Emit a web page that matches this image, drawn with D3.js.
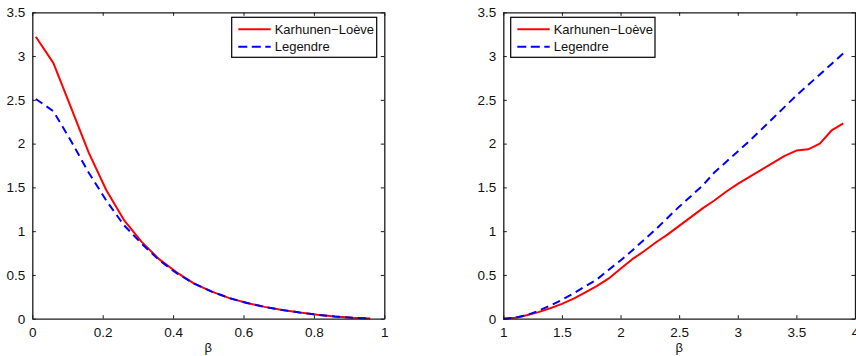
<!DOCTYPE html>
<html>
<head>
<meta charset="utf-8">
<script src="https://cdn.jsdelivr.net/npm/d3@7"></script>
<style>
  html, body { margin: 0; padding: 0; background: #fff; }
  svg { display: block; font-family: "Liberation Sans", Arial, Helvetica, sans-serif; }
</style>
</head>
<body>
<svg id="chart" width="856" height="356"></svg>
<script>
// ---------- data ----------
const betaLeft = [0.01, 0.06, 0.11, 0.16, 0.21, 0.26, 0.31, 0.36, 0.41, 0.46,
                  0.51, 0.56, 0.61, 0.66, 0.71, 0.76, 0.81, 0.86, 0.91, 0.96];
const klLeft = [3.22, 2.92, 2.41, 1.90, 1.47, 1.13, 0.88, 0.68, 0.53, 0.40,
                0.31, 0.235, 0.18, 0.135, 0.10, 0.07, 0.045, 0.025, 0.01, 0.002];
const legLeft = [2.51, 2.37, 2.03, 1.67, 1.35, 1.07, 0.86, 0.67, 0.52, 0.40,
                 0.31, 0.235, 0.18, 0.135, 0.10, 0.07, 0.045, 0.025, 0.01, 0.002];

const betaRight = [1.0, 1.1, 1.2, 1.3, 1.4, 1.5, 1.6, 1.7, 1.8, 1.9,
                   2.0, 2.1, 2.2, 2.3, 2.4, 2.5, 2.6, 2.7, 2.8, 2.9,
                   3.0, 3.1, 3.2, 3.3, 3.4, 3.5, 3.6, 3.7, 3.8, 3.9];
const klRight = [0, 0.01, 0.04, 0.075, 0.12, 0.17, 0.23, 0.30, 0.375, 0.46,
                 0.57, 0.68, 0.77, 0.87, 0.96, 1.06, 1.16, 1.26, 1.35, 1.45,
                 1.54, 1.62, 1.70, 1.78, 1.86, 1.92, 1.935, 2.00, 2.15, 2.23];
const legRight = [0, 0.01, 0.04, 0.09, 0.15, 0.215, 0.29, 0.37, 0.45, 0.56,
                  0.665, 0.78, 0.90, 1.02, 1.15, 1.28, 1.40, 1.52, 1.67, 1.79,
                  1.91, 2.03, 2.16, 2.29, 2.42, 2.55, 2.67, 2.79, 2.91, 3.03];

const xTicksLeft = [0, 0.2, 0.4, 0.6, 0.8, 1];
const xTickLabelsLeft = ["0", "0.2", "0.4", "0.6", "0.8", "1"];
const xTicksRight = [1, 1.5, 2, 2.5, 3, 3.5, 4];
const xTickLabelsRight = ["1", "1.5", "2", "2.5", "3", "3.5", "4"];
const yTicks = [0, 0.5, 1, 1.5, 2, 2.5, 3, 3.5];
const yTickLabels = ["0", "0.5", "1", "1.5", "2", "2.5", "3", "3.5"];

const seriesNames = ["Karhunen\u2212Lo\u00e8ve", "Legendre"];
const xLabel = "\u03b2";

// ---------- drawing ----------
const svg = d3.select("#chart");
const FONT = 13;
const TICKFONT = 13.5;
const AXC = "#1a1a1a";

function panel(opts) {
  const x = d3.scaleLinear().domain(opts.xDomain).range([opts.left, opts.right]);
  const y = d3.scaleLinear().domain([0, 3.5]).range([318.7, 12.3]);
  const g = svg.append("g");

  const line = d3.line().x((d, i) => x(opts.xs[i])).y(d => y(d));

  // curves
  g.append("path").datum(opts.kl)
    .attr("d", line).attr("fill", "none")
    .attr("stroke", "#ff0000").attr("stroke-width", 2)
    .attr("stroke-linejoin", "round");
  g.append("path").datum(opts.leg)
    .attr("d", line).attr("fill", "none")
    .attr("stroke", "#0000ff").attr("stroke-width", 2)
    .attr("stroke-dasharray", "8,5");

  // axes (box with inward ticks)
  const tl = 3.5;
  const bottom = g.append("g").attr("transform", `translate(0,${y(0)})`)
    .call(d3.axisBottom(x).tickValues(opts.xTicks)
      .tickFormat((d, i) => opts.xLabels[i]).tickSizeInner(-tl).tickSizeOuter(0).tickPadding(9));
  const top = g.append("g").attr("transform", `translate(0,${y(3.5)})`)
    .call(d3.axisTop(x).tickValues(opts.xTicks).tickFormat("").tickSizeInner(-tl).tickSizeOuter(0));
  const leftAx = g.append("g").attr("transform", `translate(${opts.left},0)`)
    .call(d3.axisLeft(y).tickValues(yTicks)
      .tickFormat((d, i) => yTickLabels[i]).tickSizeInner(-tl).tickSizeOuter(0).tickPadding(7));
  const rightAx = g.append("g").attr("transform", `translate(${opts.right},0)`)
    .call(d3.axisRight(y).tickValues(yTicks).tickFormat("").tickSizeInner(-tl).tickSizeOuter(0));

  [bottom, top, leftAx, rightAx].forEach(a => {
    a.select(".domain").attr("stroke", AXC).attr("stroke-width", 1.3);
    a.selectAll(".tick line").attr("stroke", AXC).attr("stroke-width", 1);
    a.selectAll("text").attr("fill", "#111").style("font-size", TICKFONT + "px")
      .style("font-family", "\"Liberation Sans\", Arial, Helvetica, sans-serif");
  });

  // x label
  g.append("text")
    .attr("x", (opts.left + opts.right) / 2).attr("y", 352)
    .attr("text-anchor", "middle").attr("fill", "#111")
    .style("font-size", FONT + "px").text(xLabel);

  // legend
  const lg = g.append("g").attr("transform", `translate(${opts.legX},17.3)`);
  lg.append("rect").attr("x", 0).attr("y", 0)
    .attr("width", opts.legW).attr("height", 40)
    .attr("fill", "#fff").attr("stroke", "#000").attr("stroke-width", 1.2);
  const rows = [
    { name: seriesNames[0], color: "#ff0000", dash: null, yy: 12 },
    { name: seriesNames[1], color: "#0000ff", dash: "9,4.5", yy: 29.5 }
  ];
  rows.forEach(r => {
    const ln = lg.append("line").attr("x1", 6.6).attr("x2", 39)
      .attr("y1", r.yy).attr("y2", r.yy)
      .attr("stroke", r.color).attr("stroke-width", 2);
    if (r.dash) ln.attr("stroke-dasharray", r.dash);
    lg.append("text").attr("x", 43).attr("y", r.yy + 4.6)
      .attr("fill", "#111").style("font-size", FONT + "px").text(r.name);
  });
}

panel({
  left: 32.3, right: 384.3, xDomain: [0, 1],
  xs: betaLeft, kl: klLeft, leg: legLeft,
  xTicks: xTicksLeft, xLabels: xTickLabelsLeft,
  legX: 231.7, legW: 145
});
panel({
  left: 503.3, right: 855, xDomain: [1, 4],
  xs: betaRight, kl: klRight, leg: legRight,
  xTicks: xTicksRight, xLabels: xTickLabelsRight,
  legX: 510.7, legW: 144.3
});
</script>
</body>
</html>
